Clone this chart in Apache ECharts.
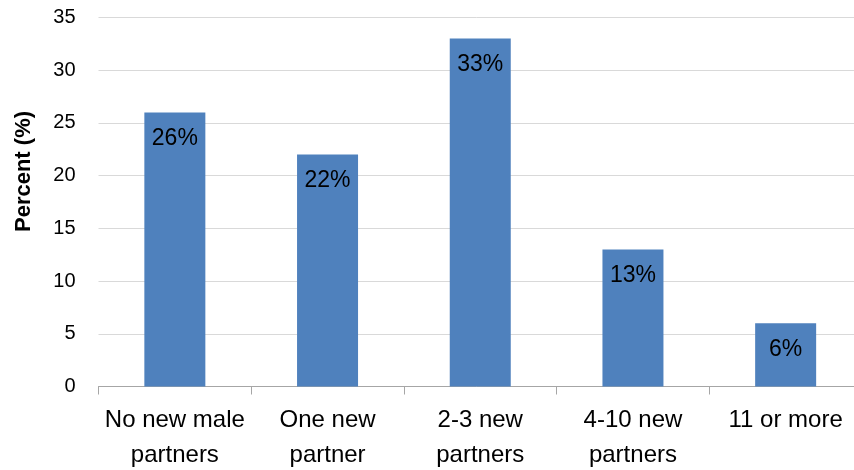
<!DOCTYPE html>
<html>
<head>
<meta charset="utf-8">
<script src="https://cdn.jsdelivr.net/npm/echarts@6/dist/echarts.min.js"></script>
<style>
  html, body { margin: 0; padding: 0; background: #ffffff; }
  #chart { width: 854px; height: 470px; }
</style>
</head>
<body>
<div id="chart"></div>
<script>
// Number of new male partners, share of respondents
const categories = ['No new male\npartners', 'One new\npartner', '2-3 new\npartners', '4-10 new\npartners', '11 or more'];
const percentValues = [26, 22, 33, 13, 6];
const yTicks = { min: 0, max: 35, interval: 5 };
const yAxisTitle = 'Percent (%)';

const FONT = '"Liberation Sans", Arial, sans-serif';

const chart = echarts.init(document.getElementById('chart'), null, { renderer: 'canvas' });

chart.setOption({
  animation: false,
  backgroundColor: '#ffffff',
  grid: {
    left: 98.5,
    right: -8,
    top: 17.5,
    bottom: 83.5,
    containLabel: false,
    outerBoundsMode: 'none'
  },
  xAxis: {
    type: 'category',
    data: categories,
    axisLine: { show: true, lineStyle: { color: '#a6a6a6', width: 1 } },
    axisTick: { show: true, length: 8, lineStyle: { color: '#a6a6a6' } },
    axisLabel: {
      color: '#000000',
      fontFamily: FONT,
      fontSize: 24,
      lineHeight: 35,
      margin: 16,
      interval: 0
    }
  },
  yAxis: {
    type: 'value',
    min: yTicks.min,
    max: yTicks.max,
    interval: yTicks.interval,
    axisLine: { show: false },
    axisTick: { show: false },
    splitLine: { show: true, lineStyle: { color: '#d9d9d9', width: 1 } },
    axisLabel: {
      color: '#000000',
      fontFamily: FONT,
      fontSize: 20,
      margin: 23
    }
  },
  graphic: [{
    type: 'text',
    x: 24,
    y: 171.5,
    rotation: Math.PI / 2,
    style: {
      text: yAxisTitle,
      fill: '#000000',
      font: 'bold 22px ' + FONT,
      align: 'center',
      verticalAlign: 'middle'
    }
  }],
  series: [{
    type: 'bar',
    data: percentValues,
    barWidth: 61,
    itemStyle: { color: '#4f81bd' },
    label: {
      show: true,
      position: 'insideTop',
      distance: 15,
      formatter: p => p.value + '%',
      color: '#000000',
      fontFamily: FONT,
      fontSize: 23
    }
  }]
});
</script>
</body>
</html>
